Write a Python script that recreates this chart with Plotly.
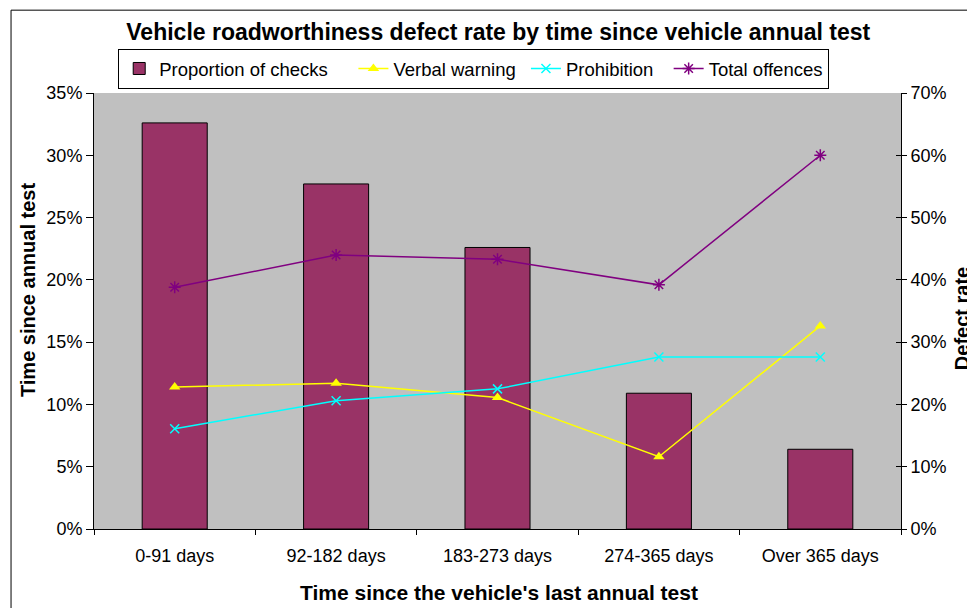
import plotly.graph_objects as go

# data
categories = ["0-91 days", "92-182 days", "183-273 days", "274-365 days", "Over 365 days"]
proportion_of_checks = [0.326, 0.277, 0.226, 0.109, 0.064]
verbal_warning = [0.228, 0.234, 0.211, 0.116, 0.326]
prohibition = [0.161, 0.206, 0.225, 0.276, 0.276]
total_offences = [0.388, 0.440, 0.433, 0.392, 0.600]

font_name = "Liberation Sans, Arial, sans-serif"
pad = "\u00a0"  # widens the legend entries a little

fig = go.Figure()

# bars on the left axis
fig.add_trace(go.Bar(
    x=categories, y=proportion_of_checks, name="Proportion of checks" + pad * 4,
    marker=dict(color="#993366", line=dict(color="black", width=1)),
))

# lines on the right axis
fig.add_trace(go.Scatter(
    x=categories, y=verbal_warning, name="Verbal warning" + pad, yaxis="y2",
    mode="lines+markers", line=dict(color="#FFFF00", width=1.5),
    marker=dict(symbol="triangle-up", size=10, color="#FFFF00"),
))
fig.add_trace(go.Scatter(
    x=categories, y=prohibition, name="Prohibition" + pad * 2, yaxis="y2",
    mode="lines+markers", line=dict(color="#00FFFF", width=1.5),
    marker=dict(symbol="x-thin", size=9, line=dict(color="#00FFFF", width=1.5)),
))
fig.add_trace(go.Scatter(
    x=categories, y=total_offences, name="Total offences", yaxis="y2",
    mode="lines+markers", line=dict(color="#800080", width=1.5),
    marker=dict(symbol="asterisk", size=10, line=dict(color="#800080", width=1.5)),
))
# empty trace so the inner half of the right-hand ticks gets drawn
fig.add_trace(go.Scatter(x=[], y=[], yaxis="y3", showlegend=False, hoverinfo="skip"))

# the page body adds an 8px margin, so the figure is 8px smaller each way
fig.update_layout(
    width=967, height=600,
    margin=dict(l=86, r=74, t=85, b=79, autoexpand=False),
    paper_bgcolor="white",
    plot_bgcolor="#C0C0C0",
    font=dict(family=font_name, size=18, color="black"),
    bargap=0.597,
    title=dict(
        text="<b>Vehicle roadworthiness defect rate by time since vehicle annual test</b>",
        x=0.507, xanchor="center", y=0.96, yanchor="middle",
        font=dict(size=23, family=font_name),
    ),
    legend=dict(
        orientation="h", x=0.03, xanchor="left", y=1.101, yanchor="top",
        bgcolor="white", bordercolor="black", borderwidth=1,
        font=dict(size=18.5), traceorder="normal",
    ),
    xaxis=dict(
        automargin=False,
        showline=True, linecolor="black", linewidth=1,
        ticks="outside", ticklen=5, tickcolor="black", tickson="boundaries",
        ticklabelstandoff=10,
        showgrid=False,
    ),
    yaxis=dict(
        automargin=False,
        range=[0, 0.35], dtick=0.05, tickformat=".0%",
        showline=True, linecolor="black", linewidth=1,
        ticks="outside", ticklen=7, tickcolor="black",
        showgrid=False, zeroline=False,
    ),
    yaxis2=dict(
        automargin=False,
        range=[0, 0.70], dtick=0.10, tickformat=".0%",
        overlaying="y", side="right",
        showline=True, linecolor="black", linewidth=1,
        ticks="outside", ticklen=5, tickcolor="black",
        showgrid=False, zeroline=False,
    ),
    yaxis3=dict(
        automargin=False,
        range=[0, 0.70], dtick=0.10,
        overlaying="y", side="right",
        showline=False, showticklabels=False,
        ticks="inside", ticklen=5, tickcolor="black",
        showgrid=False, zeroline=False,
    ),
    annotations=[
        dict(text="<b>Time since the vehicle's last annual test</b>",
             xref="paper", yref="paper", x=0.502, y=-0.1445,
             xanchor="center", yanchor="middle", showarrow=False,
             font=dict(size=21)),
        dict(text="<b>Time since annual test</b>",
             xref="paper", yref="paper", x=-0.0818, y=0.548, textangle=-90,
             xanchor="center", yanchor="middle", showarrow=False,
             font=dict(size=20)),
        dict(text="<b>Defect rate</b>",
             xref="paper", yref="paper", x=1.076, y=0.482, textangle=-90,
             xanchor="center", yanchor="middle", showarrow=False,
             font=dict(size=20)),
    ],
    shapes=[dict(
        type="rect", xref="paper", yref="paper",
        x0=-0.1028, y0=-0.2, x1=1.12, y1=1.19,
        line=dict(color="black", width=1), fillcolor="rgba(0,0,0,0)", layer="below",
    )],
)

fig.write_html("out.html")
